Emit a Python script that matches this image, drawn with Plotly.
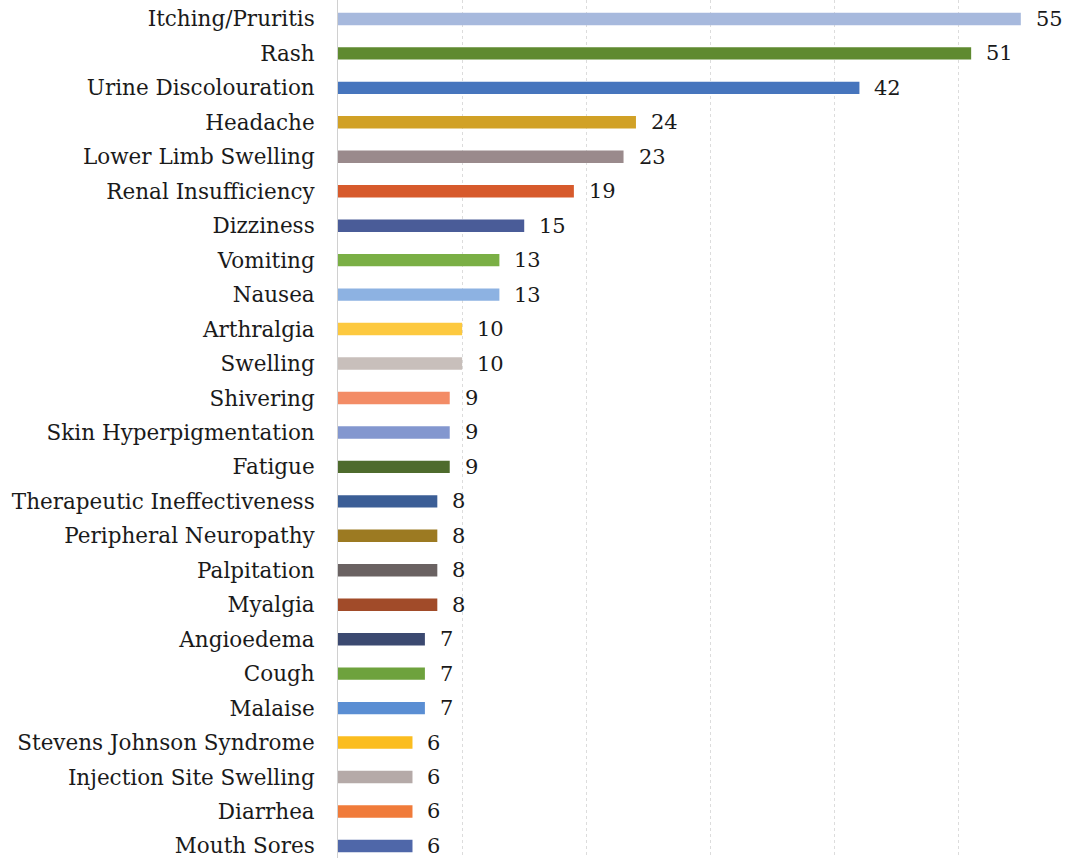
import plotly.graph_objects as go

# Reported adverse events and their counts
events = [
    "Itching/Pruritis", "Rash", "Urine Discolouration", "Headache",
    "Lower Limb Swelling", "Renal Insufficiency", "Dizziness", "Vomiting",
    "Nausea", "Arthralgia", "Swelling", "Shivering", "Skin Hyperpigmentation",
    "Fatigue", "Therapeutic Ineffectiveness", "Peripheral Neuropathy",
    "Palpitation", "Myalgia", "Angioedema", "Cough", "Malaise",
    "Stevens Johnson Syndrome", "Injection Site Swelling", "Diarrhea",
    "Mouth Sores",
]
counts = [55, 51, 42, 24, 23, 19, 15, 13, 13, 10, 10, 9, 9, 9, 8, 8, 8, 8,
          7, 7, 7, 6, 6, 6, 6]

bar_colors = [
    "#a7b9dd", "#5f8a30", "#4675bd", "#d1a126", "#9a8a8c", "#d75a2c",
    "#4a5c98", "#7aaf45", "#8db2e2", "#fdc93f", "#c8bfbb", "#f38c66",
    "#8397cf", "#4e6b2d", "#3b5e96", "#9c7a22", "#6a6262", "#a14b29",
    "#3b4970", "#6ea23d", "#5a8ed3", "#fbbd1f", "#b5aaa8", "#f07b3a",
    "#4f67a9",
]

FONT = "DejaVu Serif"
TEXT_COLOR = "#1a1a1a"

fig = go.Figure(
    go.Bar(
        x=counts,
        y=events,
        orientation="h",
        width=0.36,
        marker=dict(color=bar_colors, line=dict(width=0)),
        hoverinfo="x+y",
    )
)

# Value labels just past the end of each bar
for ev, c in zip(events, counts):
    fig.add_annotation(
        x=c, y=ev, text=str(c), showarrow=False,
        xanchor="left", yanchor="middle", xshift=13,
        font=dict(family=FONT, size=21, color=TEXT_COLOR),
    )

fig.update_layout(
    width=1068, height=858,
    margin=dict(l=338, r=0, t=0, b=0),
    paper_bgcolor="white", plot_bgcolor="white",
    showlegend=False,
    font=dict(family=FONT, size=21, color=TEXT_COLOR),
)
fig.update_xaxes(
    range=[0, 58.8], dtick=10, showticklabels=False,
    showgrid=True, gridcolor="#dcdcdc", griddash="dot", gridwidth=1,
    zeroline=False, showline=False,
)
fig.update_yaxes(
    type="category", range=[24.35, -0.55],
    showgrid=False, zeroline=False,
    showline=True, linecolor="#d0d0d0", linewidth=1,
    ticks="", ticklabelstandoff=18,
    tickfont=dict(family=FONT, size=21.5, color=TEXT_COLOR),
)

fig.write_html("out.html")
